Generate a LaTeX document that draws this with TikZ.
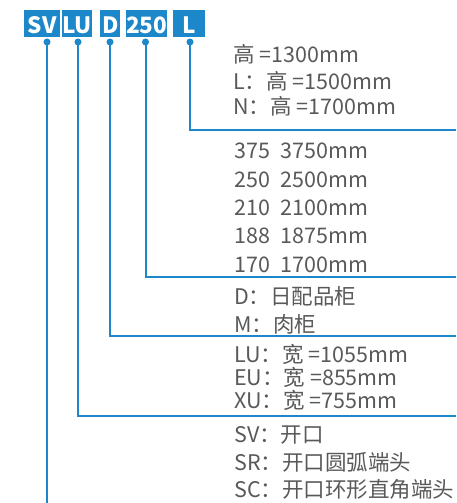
\documentclass[tikz,border=0pt]{standalone}
\usepackage{fontspec}
\setmainfont{Noto Sans CJK SC}
\definecolor{blu}{HTML}{1C87C9}
\definecolor{txt}{HTML}{595959}
\begin{document}
\begin{tikzpicture}[x=1pt,y=-1pt,
 tag/.style={fill=blu,text=white,font=\fontsize{22.5}{22.5}\selectfont\bfseries,inner sep=0pt,text height=23.5pt,text depth=3.5pt,anchor=north west},
 lbl/.style={anchor=base west,inner sep=0pt,text=txt,font=\fontsize{21.5}{21.5}\selectfont},
 wire/.style={draw=blu,line width=2pt},
 pin/.style={circle,fill=blu,inner sep=0pt,minimum size=7pt}]
\useasboundingbox (0,0) rectangle (456,503);
% tags
\node[tag,minimum width=36pt] (sv) at (24,10) {SV};
\node[tag,minimum width=30pt] (lu) at (62,10) {LU};
\node[tag,minimum width=20pt] (d) at (100,10) {D};
\node[tag,minimum width=41pt] (n250) at (126,10) {250};
\node[tag,minimum width=32pt] (l) at (173,10) {L};
% pins
\node[pin] (svp) at (47,42) {};
\node[pin] (lup) at (78,42) {};
\node[pin] (dp) at (110,42) {};
\node[pin] (n250p) at (145.5,42) {};
\node[pin] (lp) at (190,42) {};
% ends
\coordinate (sve) at (47,503);
\coordinate (lue) at (456,416);
\coordinate (de) at (456,336);
\coordinate (n250e) at (456,277);
\coordinate (le) at (456,129.5);
\draw[wire] (svp.center) -- (sve);
\draw[wire] (lup.center) |- (lue);
\draw[wire] (dp.center) |- (de);
\draw[wire] (n250p.center) |- (n250e);
\draw[wire] (lp.center) |- (le);
% labels
\node[lbl] (t1) at (233,63) {高 =1300mm};
\node[lbl] (t2) at (233,89) {L：高 =1500mm};
\node[lbl] (t3) at (233,114) {N：高 =1700mm};
\node[lbl] (t4) at (234,158) {375\hspace{0.5em}3750mm};
\node[lbl] (t5) at (234,187) {250\hspace{0.5em}2500mm};
\node[lbl] (t6) at (234,215) {210\hspace{0.5em}2100mm};
\node[lbl] (t7) at (234,243) {188\hspace{0.5em}1875mm};
\node[lbl] (t8) at (234,272) {170\hspace{0.5em}1700mm};
\node[lbl] (t9) at (234,304) {D：日配品柜};
\node[lbl] (t10) at (234,332) {M：肉柜};
\node[lbl] (t11) at (234,362) {LU：宽 =1055mm};
\node[lbl] (t12) at (234,385) {EU：宽 =855mm};
\node[lbl] (t13) at (234,408) {XU：宽 =755mm};
\node[lbl] (t14) at (234,442) {SV：开口};
\node[lbl] (t15) at (234,470) {SR：开口圆弧端头};
\node[lbl] (t16) at (234,497) {SC：开口环形直角端头};
\end{tikzpicture}
\end{document}
